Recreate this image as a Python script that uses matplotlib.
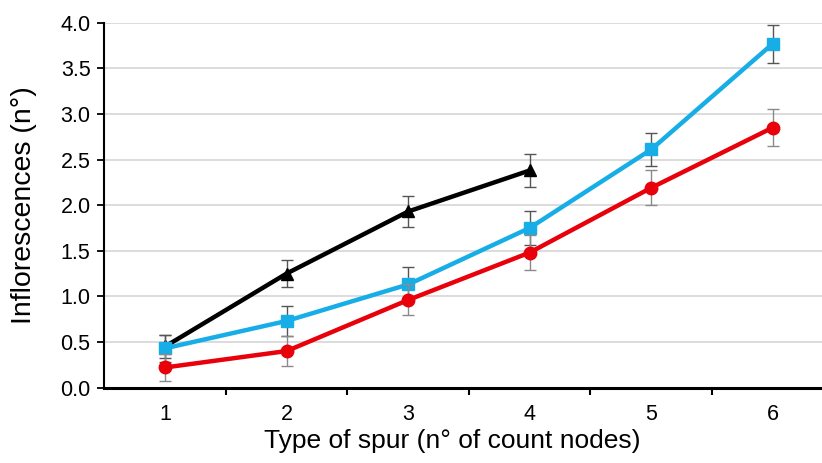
import matplotlib
matplotlib.use('Agg')
import matplotlib.pyplot as plt
from matplotlib.ticker import FixedLocator, MultipleLocator

plt.rcParams['font.family'] = ['Liberation Sans', 'DejaVu Sans']

spur_types = [1, 2, 3, 4, 5, 6]

# black triangles (only spurs 1-4)
black_x = [1, 2, 3, 4]
black_y = [0.45, 1.25, 1.93, 2.38]
black_err = [0.13, 0.15, 0.17, 0.18]

# light blue squares
blue_y = [0.43, 0.73, 1.13, 1.75, 2.61, 3.77]
blue_err = [0.15, 0.16, 0.19, 0.19, 0.18, 0.21]

# red circles
red_y = [0.22, 0.40, 0.96, 1.48, 2.19, 2.85]
red_err = [0.15, 0.16, 0.17, 0.19, 0.19, 0.20]

fig = plt.figure(figsize=(8.22, 4.63), dpi=100)
ax = fig.add_axes([0.127, 0.163, 0.887, 0.788])

ax.yaxis.grid(True, color='#d9d9d9', lw=1.3)
ax.set_axisbelow(True)

ax.errorbar(black_x, black_y, yerr=black_err, color='black', lw=3.2, marker='^', ms=9,
            ecolor='#555555', elinewidth=1, capsize=4, capthick=1, zorder=3)
ax.errorbar(spur_types, blue_y, yerr=blue_err, color='#17ade6', lw=3.2, marker='s', ms=9,
            ecolor='#555555', elinewidth=1, capsize=4, capthick=1, zorder=4)
ax.errorbar(spur_types, red_y, yerr=red_err, color='#e8000b', lw=3.2, marker='o', ms=9,
            ecolor='#8a8a8a', elinewidth=1, capsize=4, capthick=1, zorder=5)

ax.set_xlim(0.5, 6.5)
ax.set_ylim(0, 4.0)
ax.yaxis.set_major_locator(MultipleLocator(0.5))
ax.yaxis.set_major_formatter(matplotlib.ticker.FormatStrFormatter('%.1f'))
ax.set_xticks(spur_types)
ax.xaxis.set_minor_locator(FixedLocator([1.5, 2.5, 3.5, 4.5, 5.5]))
ax.tick_params(axis='x', which='major', length=0, labelsize=15.5, pad=12)
ax.tick_params(axis='x', which='minor', length=5, width=1.5, direction='out')
ax.tick_params(axis='y', length=5, width=1.3, labelsize=15.5, pad=5)

for s in ['top', 'right']:
    ax.spines[s].set_visible(False)
ax.spines['left'].set_linewidth(1.5)
ax.spines['bottom'].set_linewidth(2.2)

ax.set_xlabel('Type of spur (n° of count nodes)', fontsize=19)
ax.xaxis.set_label_coords(0.477, -0.115)
ax.set_ylabel('Inflorescences (n°)', fontsize=20.5)
ax.yaxis.set_label_coords(-0.093, 0.5)

fig.savefig('out.png', dpi=100)
